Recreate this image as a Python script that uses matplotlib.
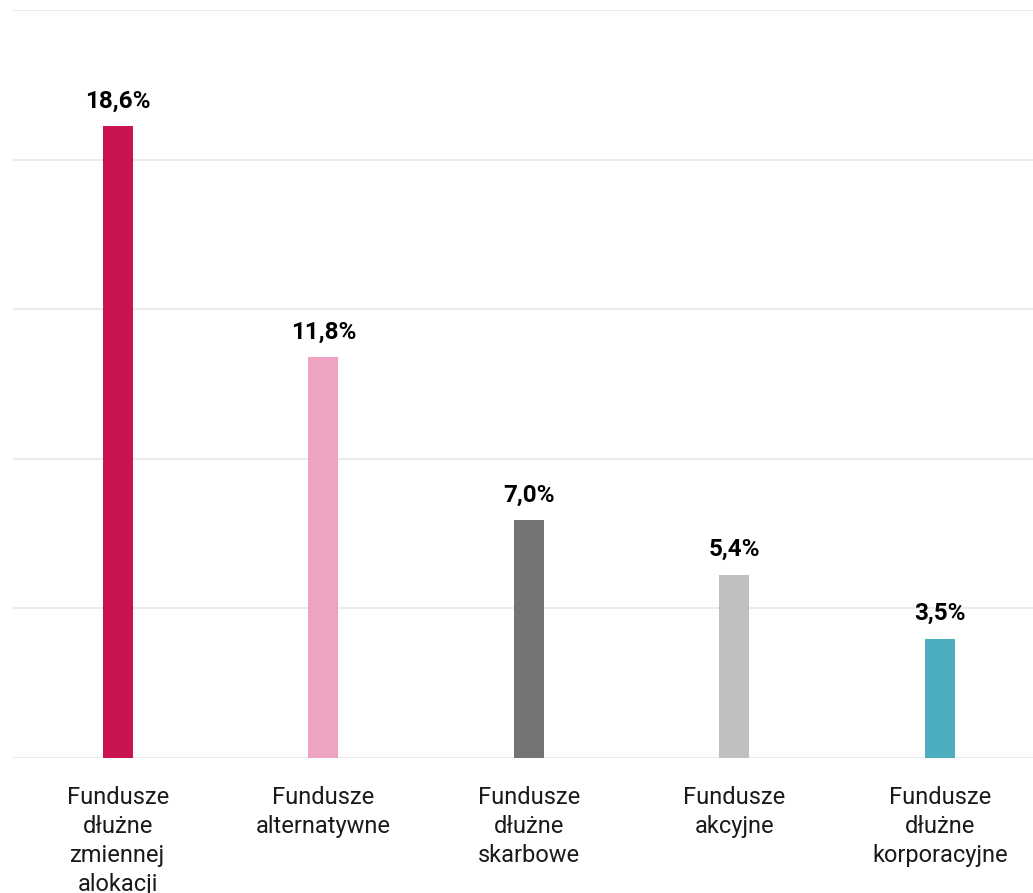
import matplotlib.pyplot as plt
import numpy as np

plt.rcParams['font.family'] = ['Roboto', 'DejaVu Sans']

categories = ["Fundusze\ndłużne\nzmiennej\nalokacji", "Fundusze\nalternatywne",
              "Fundusze\ndłużne\nskarbowe", "Fundusze\nakcyjne",
              "Fundusze\ndłużne\nkorporacyjne"]
values = [18.6, 11.8, 7.0, 5.4, 3.5]
labels = ["18,6%", "11,8%", "7,0%", "5,4%", "3,5%"]
colors = ["#C8134F", "#EFA3C2", "#747474", "#C0C0C0", "#4BADBD"]

fig = plt.figure(figsize=(10.33, 8.93), dpi=100)
ax = fig.add_axes([13 / 1033, 1 - 758 / 893, 1 - 13 / 1033, (758 - 10) / 893])

x = np.arange(len(categories))
bars = ax.bar(x, values, width=0.146, color=colors, zorder=3)

for b, lab in zip(bars, labels):
    ax.annotate(lab, (b.get_x() + b.get_width() / 2, b.get_height()),
                xytext=(0, 10), textcoords="offset points",
                ha="center", va="bottom", fontsize=17.5, fontweight="bold")

ax.set_xlim(-0.511, 4.453)
ax.set_ylim(0, 22.03)
ax.set_yticks(np.linspace(0, 22.03, 6))
ax.yaxis.grid(True, color="#EBEBEB", linewidth=1.5, zorder=0)
ax.tick_params(axis="y", left=False, labelleft=False)
ax.tick_params(axis="x", bottom=False, pad=17)
ax.set_xticks(x)
ax.set_xticklabels(categories, fontsize=17, color="#1a1a1a", linespacing=1.33)
for s in ax.spines.values():
    s.set_visible(False)

fig.savefig("out.png", dpi=100)
